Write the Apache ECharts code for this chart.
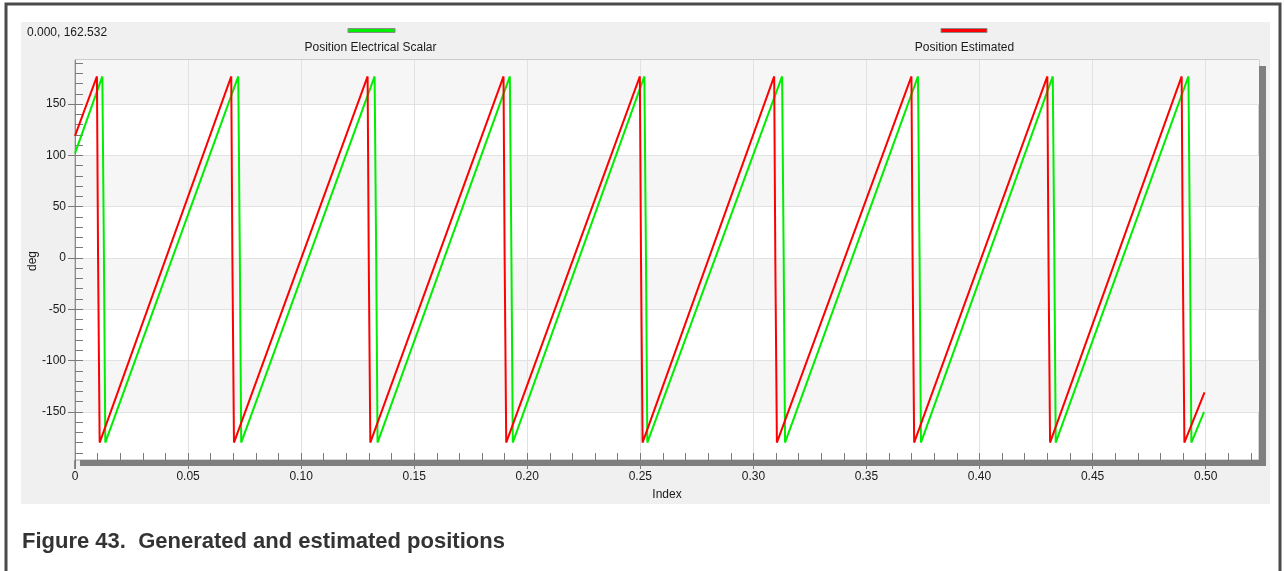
<!DOCTYPE html>
<html>
<head>
<meta charset="utf-8">
<script src="https://cdn.jsdelivr.net/npm/echarts@6/dist/echarts.min.js"></script>
<style>
html,body{margin:0;padding:0;background:#fff;}
#chart{width:1284px;height:571px;}
</style>
</head>
<body>
<div id="chart"></div>
<script>
// ---- data ----
const seriesNames = ['Position Electrical Scalar', 'Position Estimated'];

// Position Electrical Scalar (green) vertices [index, deg]
const positionElectrical = [
  [0, 102],
  [0.0121, 177], [0.0128, 177], [0.0128, 0], [0.0134, 0], [0.0134, -180],
  [0.0722, 177], [0.0729, 177], [0.0729, 0], [0.0735, 0], [0.0735, -180],
  [0.1325, 177], [0.1332, 177], [0.1332, 0], [0.1338, 0], [0.1338, -180],
  [0.1923, 177], [0.1930, 177], [0.1930, 0], [0.1936, 0], [0.1936, -180],
  [0.2518, 177], [0.2525, 177], [0.2525, 0], [0.2531, 0], [0.2531, -180],
  [0.3127, 177], [0.3134, 177], [0.3134, 0], [0.3140, 0], [0.3140, -180],
  [0.3728, 177], [0.3735, 177], [0.3735, 0], [0.3741, 0], [0.3741, -180],
  [0.4324, 177], [0.4331, 177], [0.4331, 0], [0.4337, 0], [0.4337, -180],
  [0.4924, 177], [0.4931, 177], [0.4931, 0], [0.4937, 0], [0.4937, -180],
  [0.4993, -150]
];

// Position Estimated (red) vertices [index, deg]
const positionEstimated = [
  [0, 119],
  [0.0097, 177], [0.0102, 177], [0.0102, 0], [0.0109, 0], [0.0109, -180],
  [0.0691, 177], [0.0696, 177], [0.0696, 0], [0.0703, 0], [0.0703, -180],
  [0.1294, 177], [0.1299, 177], [0.1299, 0], [0.1306, 0], [0.1306, -180],
  [0.1895, 177], [0.1900, 177], [0.1900, 0], [0.1907, 0], [0.1907, -180],
  [0.2498, 177], [0.2503, 177], [0.2503, 0], [0.2510, 0], [0.2510, -180],
  [0.3092, 177], [0.3097, 177], [0.3097, 0], [0.3104, 0], [0.3104, -180],
  [0.3699, 177], [0.3704, 177], [0.3704, 0], [0.3711, 0], [0.3711, -180],
  [0.4300, 177], [0.4305, 177], [0.4305, 0], [0.4312, 0], [0.4312, -180],
  [0.4894, 177], [0.4899, 177], [0.4899, 0], [0.4906, 0], [0.4906, -180],
  [0.4995, -131]
];

// axis ticks
const xMajorTicks = [0, 0.05, 0.10, 0.15, 0.20, 0.25, 0.30, 0.35, 0.40, 0.45, 0.50];
const xMinorTicks = [0.01,0.02,0.03,0.04,0.05,0.06,0.07,0.08,0.09,0.10,0.11,0.12,0.13,0.14,0.15,0.16,0.17,0.18,0.19,0.20,
  0.21,0.22,0.23,0.24,0.25,0.26,0.27,0.28,0.29,0.30,0.31,0.32,0.33,0.34,0.35,0.36,0.37,0.38,0.39,0.40,
  0.41,0.42,0.43,0.44,0.45,0.46,0.47,0.48,0.49,0.50,0.51,0.52];
const yMajorTicks = [-150, -100, -50, 0, 50, 100, 150];
const yMinorTicks = [-190,-180,-170,-160,-150,-140,-130,-120,-110,-100,-90,-80,-70,-60,-50,-40,-30,-20,-10,0,
  10,20,30,40,50,60,70,80,90,100,110,120,130,140,150,160,170,180,190];
const yShadedBands = [[150, 193], [50, 100], [-50, 0], [-150, -100]];
const xRange = [0, 0.5236];
const yRange = [-197, 193];
const xAxisName = 'Index';
const yAxisName = 'deg';
const cursorText = '0.000, 162.532';
const captionText = 'Figure 43.  Generated and estimated positions';

// ---- chart ----
const FONT = '"Liberation Sans", Arial, sans-serif';
const chart = echarts.init(document.getElementById('chart'), null, {renderer: 'canvas'});
const GRID = {left: 75, top: 60, width: 1184, height: 400};

const option = {
  backgroundColor: '#ffffff',
  animation: false,
  textStyle: {fontFamily: FONT},
  grid: {left: GRID.left, top: GRID.top, width: GRID.width, height: GRID.height,
    show: true, backgroundColor: '#ffffff', borderColor: '#a8a8a8', borderWidth: 1, containLabel: false},
  xAxis: [
    {
      type: 'value', min: xRange[0], max: xRange[1], z: 1.5, position: 'bottom',
      name: xAxisName, nameLocation: 'middle', nameGap: 29,
      nameTextStyle: {fontSize: 12, color: '#1a1a1a', fontFamily: FONT},
      axisLine: {show: false, onZero: false},
      axisTick: {show: true, inside: false, length: 9, customValues: xMajorTicks, lineStyle: {color: '#7a7a7a', width: 1}},
      axisLabel: {customValues: xMajorTicks, margin: 11, fontSize: 12, color: '#1a1a1a', fontFamily: FONT,
        formatter: v => (v === 0 ? '0' : v.toFixed(2))},
      splitLine: {show: true, lineStyle: {color: '#e2e2e2', width: 1}}
    },
    {
      type: 'value', min: xRange[0], max: xRange[1], z: 1.5, position: 'bottom',
      axisLine: {show: false, onZero: false},
      axisTick: {show: true, inside: true, length: 7, customValues: xMinorTicks, lineStyle: {color: '#7a7a7a', width: 1}},
      axisLabel: {show: false},
      splitLine: {show: false}
    }
  ],
  yAxis: [
    {
      type: 'value', min: yRange[0], max: yRange[1], z: 1.5, position: 'left',
      axisLine: {show: true, onZero: false, lineStyle: {color: '#8c8c8c', width: 1}},
      axisTick: {show: true, inside: false, length: 7, customValues: yMajorTicks, lineStyle: {color: '#7a7a7a', width: 1}},
      axisLabel: {customValues: yMajorTicks, margin: 9, fontSize: 12, color: '#1a1a1a', fontFamily: FONT},
      splitLine: {show: true, lineStyle: {color: '#e2e2e2', width: 1}}
    },
    {
      type: 'value', min: yRange[0], max: yRange[1], z: 1.5, position: 'left',
      axisLine: {show: false, onZero: false},
      axisTick: {show: true, inside: true, length: 8, customValues: yMinorTicks, lineStyle: {color: '#7a7a7a', width: 1}},
      axisLabel: {show: false},
      splitLine: {show: false}
    }
  ],
  series: [
    {
      name: seriesNames[0], type: 'line', xAxisIndex: 0, yAxisIndex: 0,
      data: positionElectrical, showSymbol: false, symbol: 'none',
      lineStyle: {color: '#00ee00', width: 2}, itemStyle: {color: '#00ee00'},
      clip: true, z: 2,
      markArea: {
        silent: true,
        itemStyle: {color: '#f6f6f6'},
        data: yShadedBands.map(b => [{yAxis: b[0]}, {yAxis: b[1]}])
      }
    },
    {
      name: seriesNames[1], type: 'line', xAxisIndex: 0, yAxisIndex: 0,
      data: positionEstimated, showSymbol: false, symbol: 'none',
      lineStyle: {color: '#ff0000', width: 2}, itemStyle: {color: '#ff0000'},
      clip: true, z: 3
    }
  ],
  graphic: [
    // outer frame
    {type: 'rect', z: -20, silent: true, shape: {x: 6, y: 4, width: 1274, height: 580},
      style: {fill: '#ffffff', stroke: '#4a4a4a', lineWidth: 3}},
    // chart panel
    {type: 'rect', z: -10, silent: true, shape: {x: 21, y: 22, width: 1249, height: 482},
      style: {fill: '#f0f0f0'}},
    // plot shadow bars
    {type: 'rect', z: 10, silent: true, shape: {x: 80, y: 460, width: 1186, height: 6}, style: {fill: '#7f7f7f'}},
    {type: 'rect', z: 10, silent: true, shape: {x: 1259, y: 66, width: 7, height: 400}, style: {fill: '#7f7f7f'}},
    // y axis extension below plot
    {type: 'line', z: 10, silent: true, shape: {x1: 74.5, y1: 460, x2: 74.5, y2: 469}, style: {stroke: '#8c8c8c', lineWidth: 1}},
    // y axis name (rotated)
    {type: 'text', z: 10, silent: true, x: 33, y: 261, rotation: Math.PI / 2,
      style: {text: yAxisName, font: '12px ' + FONT, fill: '#1a1a1a', textAlign: 'center', textVerticalAlign: 'middle'}},
    // cursor readout
    {type: 'text', z: 10, silent: true, x: 27, y: 33,
      style: {text: cursorText, font: '12px ' + FONT, fill: '#1a1a1a', textVerticalAlign: 'middle'}},
    // legend
    {type: 'rect', z: 10, silent: true, shape: {x: 348, y: 28.5, width: 47, height: 4},
      style: {fill: '#00ee00', stroke: '#8a8a8a', lineWidth: 1}},
    {type: 'text', z: 10, silent: true, x: 370.5, y: 48,
      style: {text: seriesNames[0], font: '12px ' + FONT, fill: '#1a1a1a', textAlign: 'center', textVerticalAlign: 'middle'}},
    {type: 'rect', z: 10, silent: true, shape: {x: 941, y: 28.5, width: 46, height: 4},
      style: {fill: '#ff0000', stroke: '#8a8a8a', lineWidth: 1}},
    {type: 'text', z: 10, silent: true, x: 964.5, y: 48,
      style: {text: seriesNames[1], font: '12px ' + FONT, fill: '#1a1a1a', textAlign: 'center', textVerticalAlign: 'middle'}},
    // caption
    {type: 'text', z: 10, silent: true, x: 22, y: 542,
      style: {text: captionText, font: 'bold 22px ' + FONT, fill: '#333333', textVerticalAlign: 'middle'}}
  ]
};
chart.setOption(option);
</script>
</body>
</html>
